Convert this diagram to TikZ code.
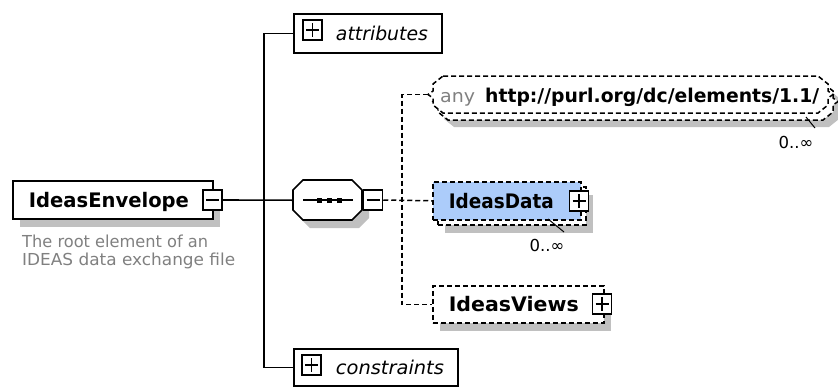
\documentclass[tikz,border=0pt]{standalone}
\usepackage{fontspec}
\setmainfont{DejaVu Sans}
\usetikzlibrary{shadows}
\definecolor{shadowgray}{RGB}{192,192,192}
\definecolor{databl}{RGB}{172,204,250}
\definecolor{descgray}{RGB}{128,128,128}
\newcommand\fitw[2]{\resizebox{#1}{\height}{#2}}
\newcommand\nmfont{\fontsize{20}{23}\selectfont\bfseries}
\newcommand\anyshape{(15,0) -- (390,0) -- (400,8) -- (400,15) -- (405,18.5) -- (400,22) -- (400,29) -- (390,37) -- (15,37) -- (5,29) -- (5,22) -- (0,18.5) -- (5,15) -- (5,8) -- cycle}
\begin{document}
\begin{tikzpicture}[x=1pt,y=-1pt,
  conn/.style={line width=1.6pt},
  dconn/.style={line width=1.5pt, dash pattern=on 5pt off 3pt},
  shadowed/.style={drop shadow={shadow xshift=7pt, shadow yshift=-8pt, fill=shadowgray, opacity=1}},
  elbox/.style={draw, line width=1.9pt, fill=white, inner sep=0pt, anchor=north west},
  delbox/.style={elbox, line width=1.6pt, dash pattern=on 5pt off 3pt},
  nametext/.style={font=\nmfont, text height=14.6pt, text depth=0pt},
  pmbox/.style={draw, line width=1.5pt, fill=white, minimum width=19pt, minimum height=20pt, inner sep=0pt},
  pmminus/.style={pmbox, path picture={\draw[line width=1.5pt] ([xshift=3pt]path picture bounding box.west) -- ([xshift=-3pt]path picture bounding box.east);}},
  pmplus/.style={pmbox, path picture={\draw[line width=1.5pt] ([xshift=3pt]path picture bounding box.west) -- ([xshift=-3pt]path picture bounding box.east); \draw[line width=1.5pt] ([yshift=-3pt]path picture bounding box.north) -- ([yshift=3pt]path picture bounding box.south);}},
  mult/.style={inner sep=0pt, font=\fontsize{16.5}{18}\selectfont},
  multline/.style={line width=1pt},
  grouptext/.style={font=\fontsize{19}{22}\selectfont\itshape, text height=14.4pt, text depth=0pt}
]
\useasboundingbox (0,0) rectangle (838,386);

% root element
\node[elbox, nametext, shadowed, minimum width=200pt, minimum height=38pt] (env) at (12,180) {\fitw{160pt}{IdeasEnvelope}\hspace*{8pt}};
\node[pmminus] (envm) at (212.5,200) {};
\node[anchor=north west, inner sep=0pt, align=left, text=descgray, font=\fontsize{16.5}{18}\selectfont] (envdesc) at (22,235) {\fitw{186pt}{The root element of an}\\\fitw{213pt}{IDEAS data exchange file}};

% attributes / constraints
\node[elbox, grouptext, minimum width=148pt, minimum height=39pt] (att) at (293,13) {\hspace*{28pt}\fitw{92pt}{attributes}};
\node[pmplus] (attp) at (312.5,30) {};
\node[elbox, grouptext, minimum width=164pt, minimum height=37pt] (con) at (293,348) {\hspace*{28pt}\fitw{108pt}{constraints}};
\node[pmplus] (conp) at (311.5,365) {};

% sequence compositor
\node[minimum width=69pt, minimum height=40pt, inner sep=0pt, anchor=north west] (seq) at (293,180) {};
\draw[line width=1.7pt, fill=white, shadowed] (303,180) -- (352,180) -- (362,190) -- (362,210) -- (352,220) -- (303,220) -- (293,210) -- (293,190) -- cycle;
\draw[conn] (303,200) -- (353,200);
\fill (316.5,197.5) rectangle ++(5,5);
\fill (326.5,197.5) rectangle ++(5,5);
\fill (336.5,197.5) rectangle ++(5,5);
\node[pmminus] (seqm) at (373,200) {};

% connectors of the root
\coordinate (tr) at (264,200);
\draw[conn] (envm.east) -- (seq.west);
\draw[conn] (att.west) -| (tr) |- (con.west);

% any element
\begin{scope}[shift={(433,83)}]
  \draw[line width=1.5pt, dash pattern=on 5pt off 3pt, fill=white, drop shadow={shadow xshift=6pt, shadow yshift=-7pt, fill=shadowgray, opacity=1}] \anyshape;
\end{scope}
\begin{scope}[shift={(428,76)}]
  \draw[line width=1.5pt, dash pattern=on 5pt off 3pt, fill=white] \anyshape;
\end{scope}
\node[minimum width=405pt, minimum height=37pt, inner sep=0pt, anchor=north west] (anyF) at (428,76) {};
\node[anchor=base west, inner sep=0pt, text=descgray, font=\fontsize{18}{20}\selectfont] (anyns) at (440,102) {\fitw{35pt}{any}};
\node[anchor=base west, inner sep=0pt, font=\fontsize{19}{22}\selectfont\bfseries] (anyurl) at (485,102) {\fitw{334pt}{http://purl.org/dc/elements/1.1/}};
\node[mult] (anym) at (796,142) {0..∞};
\coordinate (amA) at (806,117);
\coordinate (amB) at (815,128);
\draw[multline] (amA) -- (amB);

% IdeasData
\node[delbox, shadowed, minimum width=148pt, minimum height=38pt] (dataB) at (437,186) {};
\node[delbox, nametext, fill=databl, minimum width=148pt, minimum height=38pt] (dataF) at (432,181) {\fitw{105pt}{IdeasData}\hspace*{11pt}};
\node[pmplus] (datap) at (579,201) {};
\node[mult] (datam) at (547,245) {0..∞};
\coordinate (dmA) at (548,219);
\coordinate (dmB) at (564,232);
\draw[multline] (dmA) -- (dmB);

% IdeasViews
\node[delbox, nametext, shadowed, minimum width=171pt, minimum height=37pt] (views) at (432,285) {\fitw{130pt}{IdeasViews}\hspace*{9pt}};
\node[pmplus] (viewsp) at (602,304) {};

% sequence connectors
\coordinate (dj) at (402,200);
\draw[dconn] (seqm.east) -- (dataF.west);
\draw[dconn] (anyF.west) -| (dj) |- (views.west);
\end{tikzpicture}
\end{document}
